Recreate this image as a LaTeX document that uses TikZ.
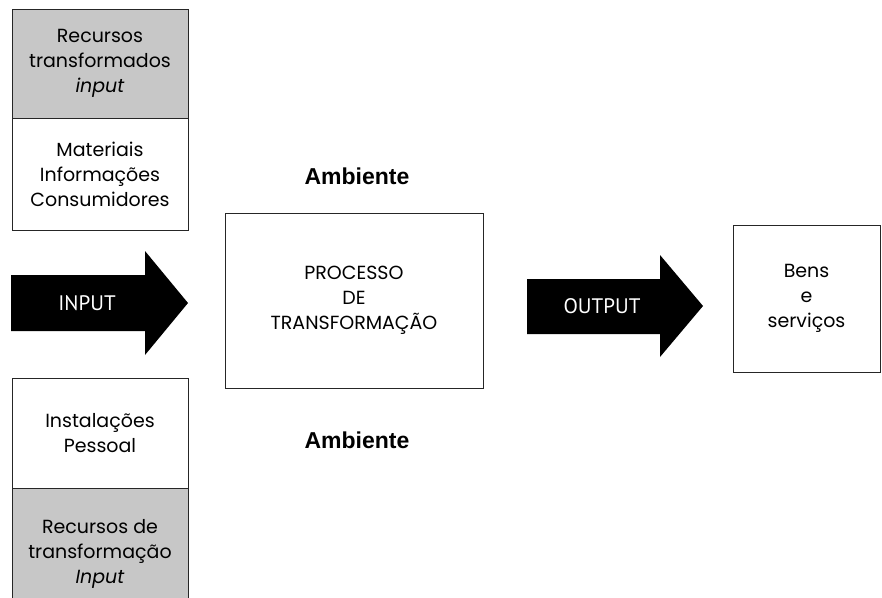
\documentclass[tikz,border=0pt]{standalone}
\usepackage{fontspec}
\setmainfont{Poppins}
\newfontfamily\ambfont{Liberation Sans}
\newfontfamily\arrfont{PT Sans}
\usetikzlibrary{positioning}

\begin{document}
\begin{tikzpicture}[
  x=1pt, y=-1pt,
  font=\fontsize{19}{25}\selectfont,
  box/.style={draw=black!85, line width=0.8pt, align=center, inner sep=0pt},
  shade/.style={box, fill=black!22},
  fat/.style={fill=black},
  lbl/.style={text=white, font=\arrfont\fontsize{21}{22}\selectfont},
  amb/.style={font=\ambfont\bfseries\fontsize{23}{24}\selectfont}
]
  \useasboundingbox (0,0) rectangle (882,597);

  % left column: resources
  \node[shade, minimum width=176pt, minimum height=109pt] (rtin) at (100,63.5)
    {Recursos\\transformados\\\textit{input}};
  \node[box, minimum width=176pt, minimum height=112pt, below=0pt of rtin] (mat)
    {Materiais\\Informações\\Consumidores};
  \node[box, minimum width=176pt, minimum height=110pt] (inst) at (100,433)
    {Instalações\\Pessoal};
  \node[shade, minimum width=176pt, minimum height=130pt, below=0pt of inst] (rtf)
    {Recursos de\\transformação\\\textit{Input}};

  % process and result
  \node[box, minimum width=258pt, minimum height=175pt] (proc) at (354,300.5)
    {PROCESSO\\DE\\TRANSFORMAÇÃO};
  \node[box, minimum width=147pt, minimum height=147pt] (bens) at (806.5,298.5)
    {Bens\\e\\serviços};
  \node[amb] (amb1) at (357,176) {Ambiente};
  \node[amb] (amb2) at (357,440) {Ambiente};

  % fat arrows
  \fill[fat] (11,275) -- (145,275) -- (145,251) -- (188,303) -- (145,355)
    -- (145,331) -- (11,331) -- cycle;
  \node[lbl] (in) at (87,303) {INPUT};
  \fill[fat] (527,279) -- (660,279) -- (660,255) -- (703,306) -- (660,357)
    -- (660,334) -- (527,334) -- cycle;
  \node[lbl] (out) at (602,306) {OUTPUT};
\end{tikzpicture}
\end{document}
